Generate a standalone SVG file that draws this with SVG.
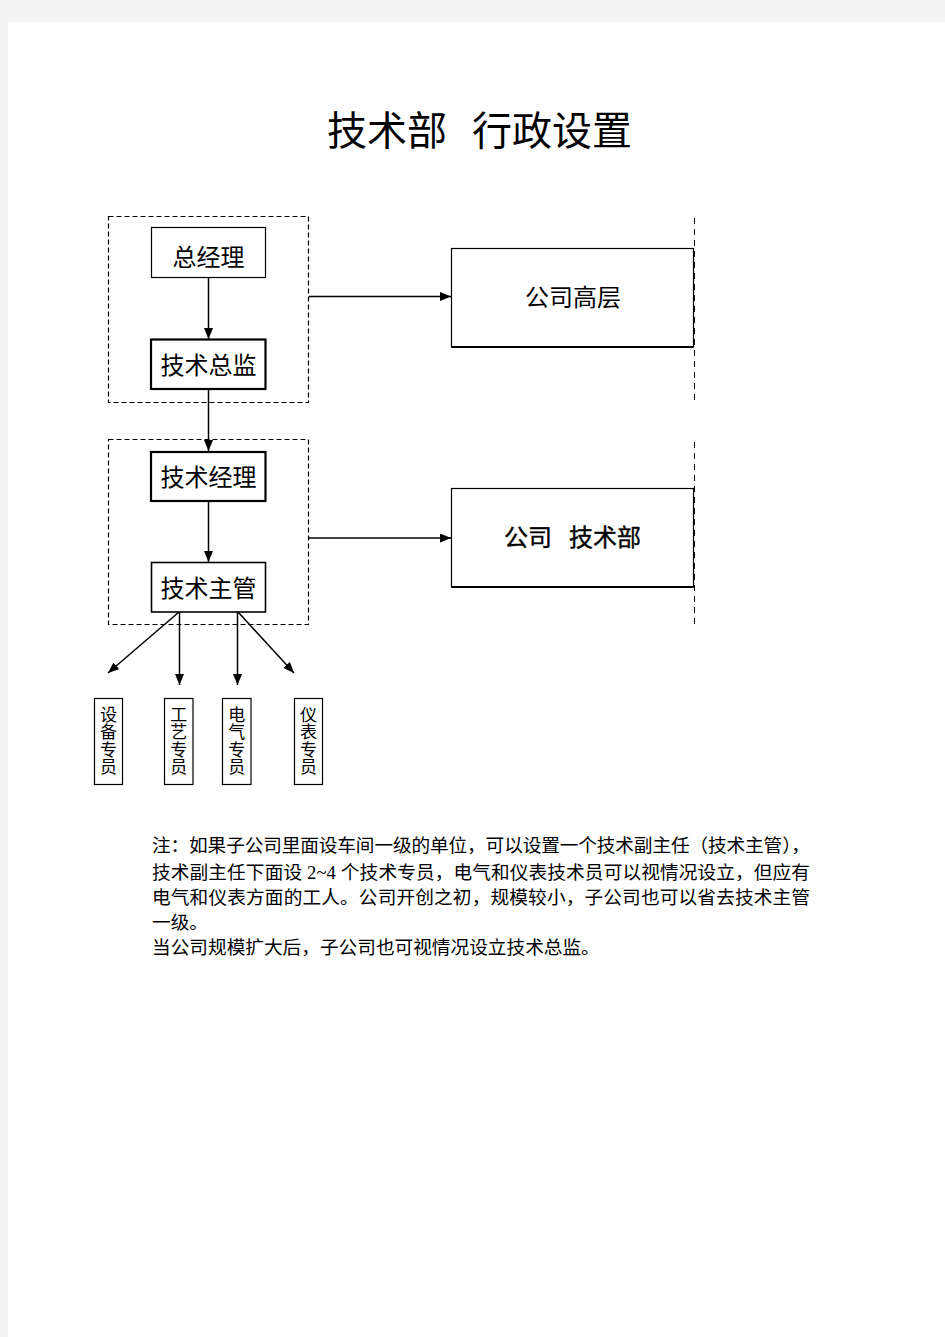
<svg xmlns="http://www.w3.org/2000/svg" width="945" height="1337" viewBox="0 0 945 1337">
<style>
.serif{font-family:"Liberation Serif","Noto Sans CJK SC",serif;fill:#000}
.box{fill:#fff;stroke:#000}
.dash{fill:none;stroke:#000;stroke-width:1.2;stroke-dasharray:5,3}
.vdash{fill:none;stroke:#000;stroke-width:1;stroke-dasharray:6,5}
.conn{stroke:#000;stroke-width:1.5;fill:none}
.vt{font-family:"Noto Sans CJK SC","Liberation Sans",sans-serif;font-size:17px;fill:#000;writing-mode:vertical-rl;letter-spacing:0.3px}
</style>
<defs>
<marker id="ah" markerWidth="11" markerHeight="9" refX="11" refY="4.5" orient="auto" markerUnits="userSpaceOnUse">
<path d="M0,0 L11,4.5 L0,9 Z" fill="#000"/>
</marker>
</defs>
<rect x="0" y="0" width="945" height="1337" fill="#f4f4f4"/>
<rect x="8" y="22" width="937" height="1315" fill="#fff"/>

<text class="serif" font-size="40" x="327" y="145">技术部</text>
<text class="serif" font-size="40" x="472" y="145">行政设置</text>

<g id="group-top">
<rect class="dash" x="108.5" y="216.5" width="200" height="186"/>
</g>
<g id="group-mid">
<rect class="dash" x="108.5" y="439.5" width="200" height="185"/>
</g>

<g id="node-zongjingli">
<rect class="box" x="151.5" y="227.5" width="114" height="50" stroke="#666" stroke-width="1.2"/>
<text class="serif" font-size="24" x="208.5" y="266" text-anchor="middle">总经理</text>
</g>
<g id="node-jishuzongjian">
<rect class="box" x="151" y="339.5" width="114.5" height="49.5" stroke-width="2.2"/>
<text class="serif" font-size="24" x="208.5" y="374" text-anchor="middle">技术总监</text>
</g>
<g id="node-jishujingli">
<rect class="box" x="151" y="452" width="114.5" height="49" stroke-width="2.2"/>
<text class="serif" font-size="24" x="208.5" y="486" text-anchor="middle">技术经理</text>
</g>
<g id="node-jishuzhuguan">
<rect class="box" x="151.5" y="562.5" width="114" height="49.5" stroke-width="1.6"/>
<text class="serif" font-size="24" x="208.5" y="597" text-anchor="middle">技术主管</text>
</g>

<g id="node-gaoceng">
<rect class="box" x="451.5" y="248.5" width="242" height="98.5" stroke-width="1.2"/>
<line x1="451.5" y1="347" x2="693.5" y2="347" stroke="#000" stroke-width="2"/>
<text class="serif" font-size="24" x="573" y="306" text-anchor="middle">公司高层</text>
</g>
<g id="node-jishubu">
<rect class="box" x="451.5" y="488.5" width="242" height="98.5" stroke-width="1.2"/>
<line x1="451.5" y1="587" x2="693.5" y2="587" stroke="#000" stroke-width="2"/>
<text class="serif" font-size="24" x="504" y="546" stroke="#000" stroke-width="0.4">公司</text>
<text class="serif" font-size="24" x="569" y="546" stroke="#000" stroke-width="0.4">技术部</text>
</g>

<g id="dividers">
<line class="vdash" x1="694.5" y1="218" x2="694.5" y2="404"/>
<line class="vdash" x1="694.5" y1="442" x2="694.5" y2="626"/>
</g>

<g id="node-shebei">
<rect class="box" x="94.5" y="698.5" width="28" height="86" stroke="#555" stroke-width="1.2"/>
<text class="vt" x="108.5" y="706">设备专员</text>
</g>
<g id="node-gongyi">
<rect class="box" x="164.5" y="698.5" width="28.5" height="86" stroke="#555" stroke-width="1.2"/>
<text class="vt" x="178.8" y="706">工艺专员</text>
</g>
<g id="node-dianqi">
<rect class="box" x="222.5" y="698.5" width="28.5" height="86" stroke="#555" stroke-width="1.2"/>
<text class="vt" x="236.8" y="706">电气专员</text>
</g>
<g id="node-yibiao">
<rect class="box" x="294.5" y="698.5" width="28" height="86" stroke="#555" stroke-width="1.2"/>
<text class="vt" x="308.5" y="706">仪表专员</text>
</g>

<g id="connectors">
<line class="conn" x1="208.5" y1="278" x2="208.5" y2="339" marker-end="url(#ah)"/>
<line class="conn" x1="208.5" y1="389" x2="208.5" y2="451" marker-end="url(#ah)"/>
<line class="conn" x1="208.5" y1="501" x2="208.5" y2="562" marker-end="url(#ah)"/>
<line class="conn" x1="309" y1="296.5" x2="451" y2="296.5" marker-end="url(#ah)"/>
<line class="conn" x1="309" y1="538" x2="451" y2="538" marker-end="url(#ah)"/>
<line class="conn" x1="179" y1="612" x2="108" y2="673" marker-end="url(#ah)"/>
<line class="conn" x1="179.5" y1="612" x2="179.5" y2="685" marker-end="url(#ah)"/>
<line class="conn" x1="237.5" y1="612" x2="237.5" y2="685" marker-end="url(#ah)"/>
<line class="conn" x1="238" y1="612" x2="294" y2="673" marker-end="url(#ah)"/>
</g>

<g id="note" class="serif" font-size="18.67">
<text x="152" y="852" textLength="658" lengthAdjust="spacing">注：如果子公司里面设车间一级的单位，可以设置一个技术副主任（技术主管），</text>
<text x="152" y="879" textLength="658" lengthAdjust="spacing">技术副主任下面设 2~4 个技术专员，电气和仪表技术员可以视情况设立，但应有</text>
<text x="152" y="904" textLength="658" lengthAdjust="spacing">电气和仪表方面的工人。公司开创之初，规模较小，子公司也可以省去技术主管</text>
<text x="152" y="929">一级。</text>
<text x="152" y="954">当公司规模扩大后，子公司也可视情况设立技术总监。</text>
</g>
</svg>
